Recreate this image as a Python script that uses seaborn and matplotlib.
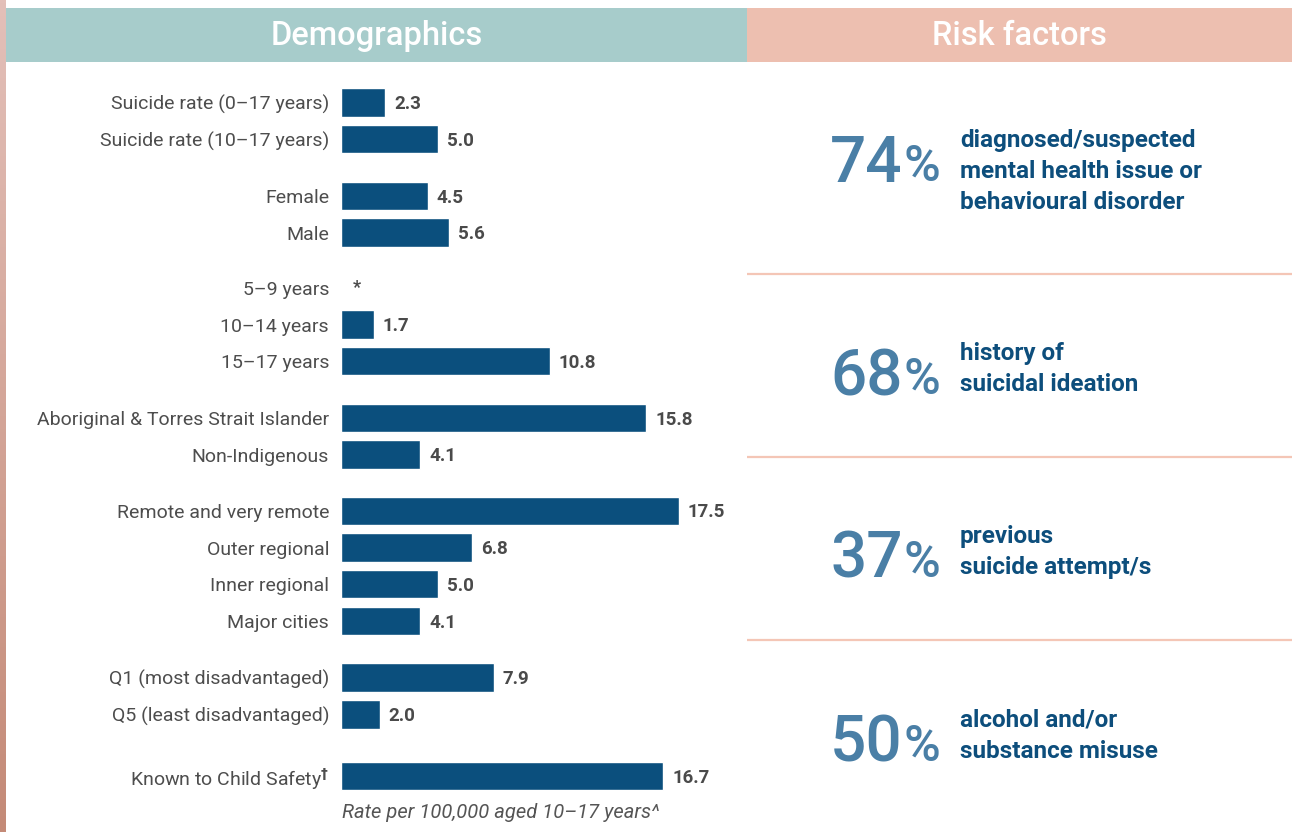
import numpy as np
import pandas as pd
import matplotlib
matplotlib.use("Agg")
import matplotlib.pyplot as plt
from matplotlib.patches import Rectangle
from matplotlib.colors import LinearSegmentedColormap
import seaborn as sns

# ---- data -------------------------------------------------------------
categories = [
    "Suicide rate (0–17 years)", "Suicide rate (10–17 years)",
    "Female", "Male",
    "5–9 years", "10–14 years", "15–17 years",
    "Aboriginal & Torres Strait Islander", "Non-Indigenous",
    "Remote and very remote", "Outer regional", "Inner regional", "Major cities",
    "Q1 (most disadvantaged)", "Q5 (least disadvantaged)",
    "Known to Child Safety$^{\\mathbf{\\dagger}}$",
]
groups = [0, 0, 1, 1, 2, 2, 2, 3, 3, 4, 4, 4, 4, 5, 5, 6]
rates = [2.3, 5.0, 4.5, 5.6, np.nan, 1.7, 10.8, 15.8, 4.1,
         17.5, 6.8, 5.0, 4.1, 7.9, 2.0, 16.7]
suppressed_mark = "*"

risk_pct = [74, 68, 37, 50]
risk_text = [
    ["diagnosed/suspected", "mental health issue or", "behavioural disorder"],
    ["history of", "suicidal ideation"],
    ["previous", "suicide attempt/s"],
    ["alcohol and/or", "substance misuse"],
]

header_left = "Demographics"
header_right = "Risk factors"
footnote = "Rate per 100,000 aged 10–17 years^"

# ---- style ------------------------------------------------------------
sns.set_style("white")
plt.rcParams["font.family"] = ["Roboto", "DejaVu Sans"]

BAR = "#0b4f7d"
LABEL = "#4d4d4d"
VALUE = "#4a4a4a"
TEAL = "#a7cccb"
PINK = "#edbfb0"
RULE = "#f4c6b6"
BIG = "#4a7fa6"
DESC = "#0d4e7c"

W, H = 1292, 832
fig = plt.figure(figsize=(W / 100, H / 100), dpi=100)
fig.patch.set_facecolor("white")

# full-figure canvas in pixel units for the frame and the right panel
bg = fig.add_axes([0, 0, 1, 1])
bg.axis("off")

strip = LinearSegmentedColormap.from_list("strip", ["#e3c0b9", "#c48a77"])
bg.imshow(np.linspace(0, 1, 256)[:, None], extent=[0, 6, H, 0],
          cmap=strip, aspect="auto", origin="upper")
bg.set_xlim(0, W)
bg.set_ylim(H, 0)

bg.add_patch(Rectangle((6, 8), 741, 54, color=TEAL, lw=0))
bg.add_patch(Rectangle((747, 8), W - 747, 54, color=PINK, lw=0))
bg.text(377, 45, header_left, ha="center", va="baseline",
        color="white", fontsize=23.5, fontweight="medium")
bg.text(1019, 45, header_right, ha="center", va="baseline",
        color="white", fontsize=23.5, fontweight="medium")

for y in (274, 457, 640):
    bg.plot([747, W], [y, y], color=RULE, lw=1.6, solid_capstyle="butt")

# ---- risk factor panel --------------------------------------------------
num_baselines = [182, 395, 578, 762]
for pct, lines, base in zip(risk_pct, risk_text, num_baselines):
    bg.text(903, base, f"{pct}", ha="right", va="baseline",
            color=BIG, fontsize=46, fontweight="medium")
    bg.text(904, base - 1, "%", ha="left", va="baseline",
            color=BIG, fontsize=36, fontweight="medium")
    for i, line in enumerate(lines):
        bg.text(960, base - 35 + 31 * i, line, ha="left", va="baseline",
                color=DESC, fontsize=17.5, fontweight="bold")

# ---- demographic bar chart ---------------------------------------------
row_px = 36.7
gap_px = [0, 20, 18.5, 20, 19.5, 20, 25]   # extra space before each group
group_offset = np.cumsum(gap_px) / row_px
positions = np.arange(len(categories)) + group_offset[np.array(groups)]

df = pd.DataFrame({"category": categories, "rate": rates, "pos": positions})

ax = fig.add_axes([341 / W, 1 - 800 / H, 400 / W, 720 / H])
sns.barplot(data=df.dropna(), x="rate", y="pos", orient="h",
            native_scale=True, color=BAR, saturation=1,
            width=28.5 / row_px, errorbar=None, ax=ax)

ax.set_xlim(0, 400 / 19.31)
ax.set_ylim((800 - 102.5) / row_px, -(102.5 - 80) / row_px)

for cont in ax.containers:
    anns = ax.bar_label(cont, fmt="{:.1f}", padding=6.5, fontsize=13.5,
                        fontweight="bold", color=VALUE)
    for a in anns:
        a.xyann = (6.5, -1.2)

missing = df[df["rate"].isna()]
for p in missing["pos"]:
    ax.text(0.8, p, suppressed_mark, ha="center", va="center",
            fontsize=13, fontweight="bold", color=VALUE)

ax.set_yticks(positions, labels=categories)
ax.tick_params(axis="y", length=0, pad=8.6, labelsize=14, labelcolor=LABEL)
ax.set_xticks([])
ax.set_xlabel("")
ax.set_ylabel("")
for s in ax.spines.values():
    s.set_visible(False)
ax.patch.set_alpha(0)

bg.text(342, 813, footnote, ha="left", va="center", style="italic",
        color="#555555", fontsize=14.5)

fig.savefig("out.png", dpi=100, facecolor="white")
